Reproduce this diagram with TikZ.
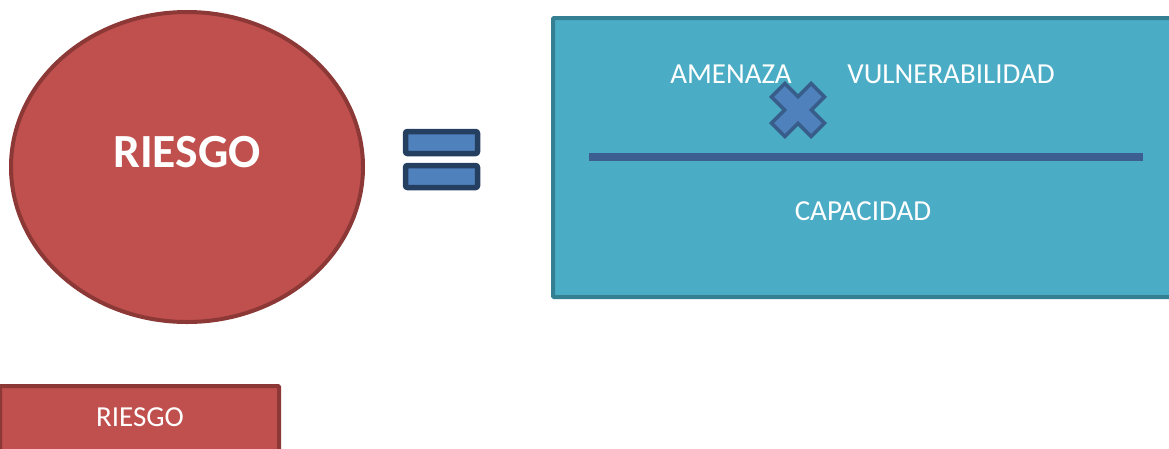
\documentclass[tikz,border=0pt]{standalone}
\usepackage{fontspec}
\setmainfont{Carlito}
\usetikzlibrary{shapes.geometric}
\definecolor{redfill}{HTML}{C0504D}
\definecolor{redline}{HTML}{8C3836}
\definecolor{tealfill}{HTML}{4BACC6}
\definecolor{tealline}{HTML}{357F92}
\definecolor{bluefill}{HTML}{4F81BD}
\definecolor{blueline}{HTML}{385D8A}
\definecolor{darkblue}{HTML}{243F60}
\definecolor{barblue}{HTML}{3C5E90}
\tikzset{
  lbl/.style={text=white, font=\fontsize{29}{34}\selectfont, inner sep=0pt},
  eqbar/.style={fill=bluefill, draw=darkblue, line width=5.5pt, rounded corners=2pt},
}
\begin{document}
\begin{tikzpicture}[x=1pt,y=-1pt]
\useasboundingbox (0,0) rectangle (1169,448);
\clip (0,0) rectangle (1169,448);
% ellipse
\node[ellipse, minimum width=352pt, minimum height=310pt, fill=redfill, draw=redline, line width=4pt, inner sep=0pt] (riesgo) at (187,167) {};
\node[text=white, font=\bfseries\fontsize{47.6}{55}\selectfont, inner sep=0pt] (rtxt) at (187,152) {RIESGO};
% equals
\path[eqbar] (405.5,131.5) rectangle (477.5,153.5);
\path[eqbar] (405.5,165.5) rectangle (477.5,187.5);
\coordinate (eq) at (441,159);
% teal box
\path[fill=tealfill, draw=tealline, line width=4pt, rounded corners=1pt] (553,18) rectangle (1185,297);
\node[lbl] (amen) at (731,74) {AMENAZA};
\node[lbl] (vuln) at (951,74) {VULNERABILIDAD};
\node[lbl] (cap) at (863,211) {CAPACIDAD};
\coordinate (la) at (589,157);
\coordinate (lb) at (1143,157);
\draw[barblue, line width=8pt] (la) -- (lb);
% multiply sign
\begin{scope}[shift={(798,110)}, rotate=45]
\path[fill=bluefill, draw=blueline, line width=3.5pt, line join=miter]
 (9.5,9.5) -- (28,9.5) -- (28,-9.5) -- (9.5,-9.5) -- (9.5,-28) -- (-9.5,-28) -- (-9.5,-9.5) -- (-28,-9.5) -- (-28,9.5) -- (-9.5,9.5) -- (-9.5,28) -- (9.5,28) -- cycle;
\end{scope}
% bottom box
\path[fill=redfill, draw=redline, line width=4pt, rounded corners=1pt] (0,386) rectangle (279,470);
\node[lbl] (r2) at (140,417) {RIESGO};
\end{tikzpicture}
\end{document}
